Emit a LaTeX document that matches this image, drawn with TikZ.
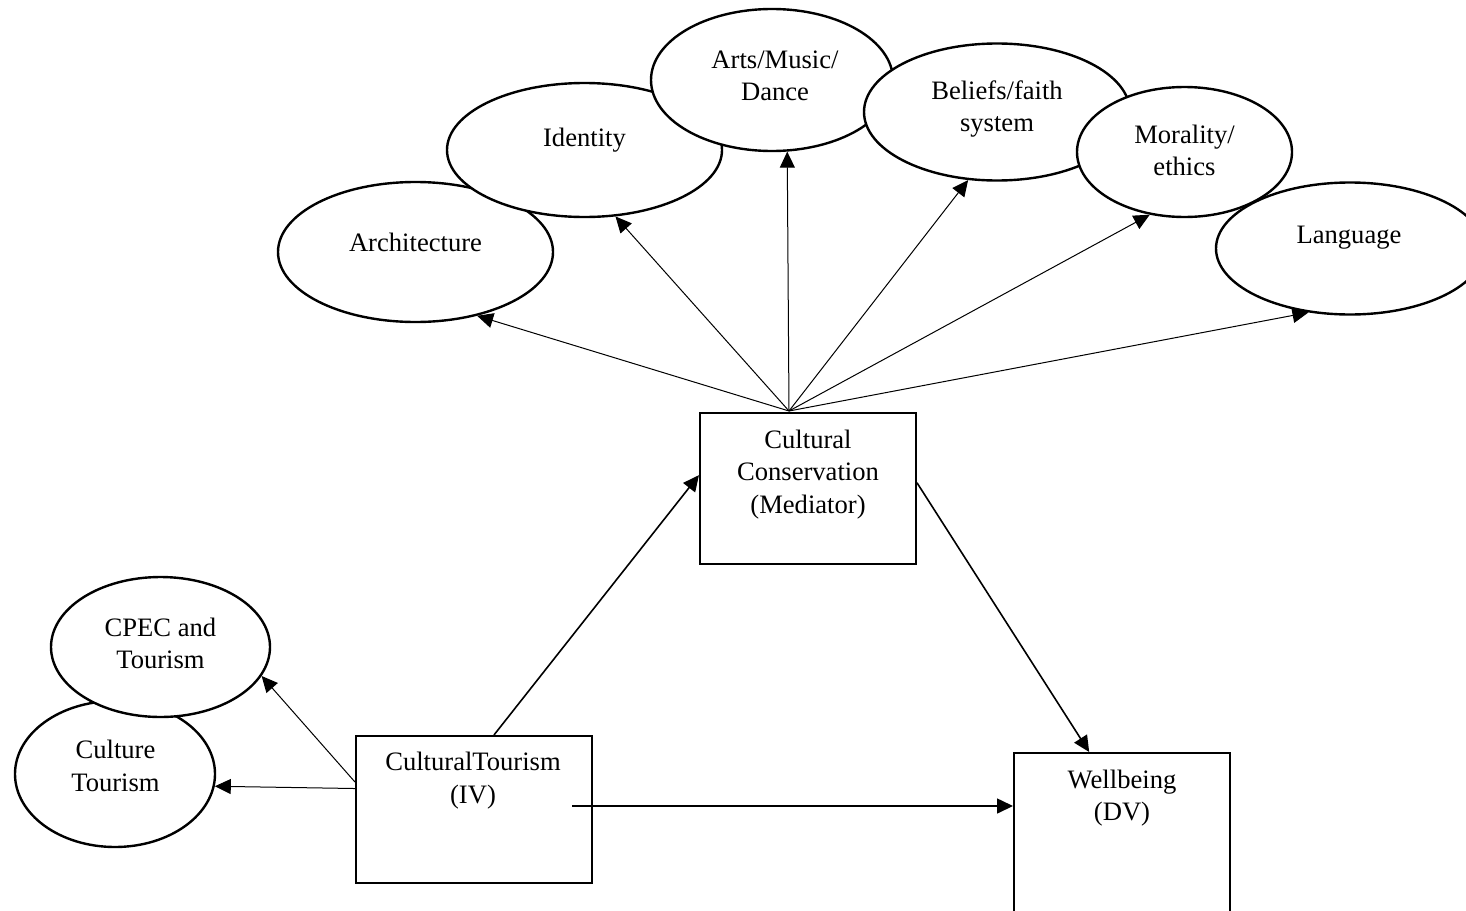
\documentclass[tikz,border=0pt]{standalone}
\usepackage{fontspec}
\setmainfont{Liberation Serif}
\usetikzlibrary{shapes.geometric,arrows.meta}

\begin{document}
\begin{tikzpicture}[x=0.5pt,y=-0.5pt,>={Triangle[length=8pt,width=7.5pt]}]
    \tikzstyle{oval}=[ellipse,draw=black,fill=white,line width=1.2pt,inner sep=0pt]
    \tikzstyle{box}=[rectangle,draw=black,fill=white,line width=1pt,inner sep=0pt]
    \tikzstyle{txt}=[align=center,inner sep=0pt,font=\fontsize{13.3}{16.3}\selectfont]
    \tikzstyle{thinarrow}=[->,line width=0.5pt]
    \tikzstyle{midarrow}=[->,line width=0.8pt]
    \useasboundingbox (0,0) rectangle (1466,910);
    \clip (0,0) rectangle (1466,910);

    % cultural dimensions (drawn left to right, each over the last)
    \node[oval,minimum width=137.5pt,minimum height=70pt] (E-arch) at (415.5,252) {};
    \node[txt] (T-arch) at (415.5,242) {Architecture};
    \node[oval,minimum width=137.5pt,minimum height=67pt] (E-iden) at (584.5,150) {};
    \node[txt] (T-iden) at (584.5,140) {Identity};
    \node[oval,minimum width=121pt,minimum height=71pt] (E-arts) at (772,80) {};
    \node[txt] (T-arts) at (775,76) {Arts/Music/\\Dance};
    \node[oval,minimum width=133pt,minimum height=68.5pt] (E-beli) at (997,112) {};
    \node[txt] (T-beli) at (997,109) {Beliefs/faith\\system};
    \node[oval,minimum width=107.5pt,minimum height=65pt] (E-mora) at (1184.5,152) {};
    \node[txt] (T-mora) at (1184.5,150.5) {Morality/\\ethics};
    \node[oval,minimum width=134pt,minimum height=66pt] (E-lang) at (1350,248.5) {};
    \node[txt] (T-lang) at (1349,238) {Language};

    % tourism dimensions
    \node[oval,minimum width=100pt,minimum height=73pt] (E-cult) at (115,774) {};
    \node[txt] (T-cult) at (115.5,766) {Culture\\Tourism};
    \node[oval,minimum width=109.5pt,minimum height=70pt] (E-cpec) at (160.5,647) {};
    \node[txt] (T-cpec) at (160.5,643.5) {CPEC and\\Tourism};

    % variables
    \node[box,minimum width=108pt,minimum height=75.5pt] (CC) at (808,488.5) {};
    \node[txt] (CC-t) at (808,474.5) {Cultural\\Conservation\\(Mediator)};
    \node[box,minimum width=118pt,minimum height=73.5pt] (CT) at (474,809.5) {};
    \node[txt] (CT-t) at (473,780.5) {CulturalTourism\\(IV)};
    \node[box,minimum width=108pt,minimum height=100pt] (WB) at (1122,853) {};
    \node[txt] (WB-t) at (1122,798) {Wellbeing\\(DV)};

    \coordinate (CC-top) at (789,411);
    \coordinate (CT-out) at (572,806);

    \foreach \name/\ang in {arch/-46, iden/-65, arts/-78, beli/-113, mora/-119, lang/-123}
        \draw[thinarrow] (CC-top) -- (E-\name.\ang);

    \draw[thinarrow] (CT.167) -- (E-cpec.-16);
    \draw[thinarrow] (CT.170) -- (E-cult.-7);

    \draw[midarrow] (CT.75) -- (CC.173);
    \draw[midarrow] (CC.3) -- (WB.108);
    \draw[midarrow] (CT-out) -- (CT-out -| WB.west);
\end{tikzpicture}
\end{document}
